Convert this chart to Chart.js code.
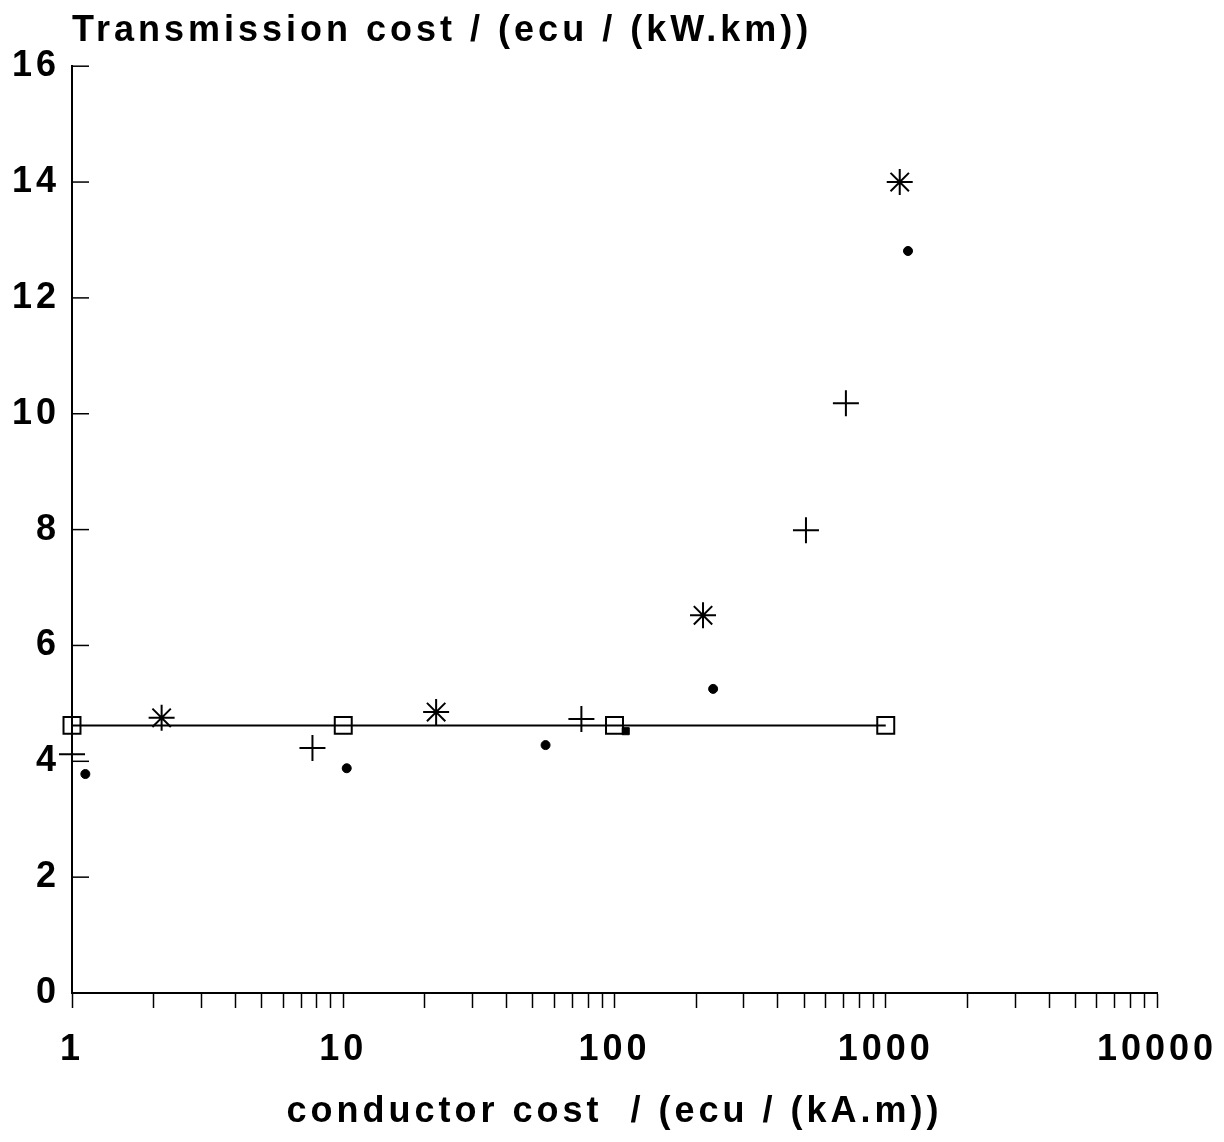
<!DOCTYPE html>
<html>
<head>
<meta charset="utf-8">
<script src="https://cdn.jsdelivr.net/npm/chart.js@4.4.1/dist/chart.umd.min.js"></script>
<style>
  html, body { margin: 0; padding: 0; background: #fff; }
  #wrap { width: 1224px; height: 1142px; }
</style>
</head>
<body>
<div id="wrap"><canvas id="chart"></canvas></div>
<script>
// values
const squareX = [1, 10, 100, 1000];
const squareY = [4.62, 4.62, 4.62, 4.62];
const starX = [2.14, 22, 212, 1126];
const starY = [4.75, 4.85, 6.52, 14.0];
const plusX = [1, 7.7, 75.5, 508, 713];
const plusY = [4.12, 4.23, 4.73, 7.99, 10.18];
const dotX = [1.12, 10.3, 55.7, 231, 1208];
const dotY = [3.78, 3.88, 4.28, 5.25, 12.81];
const smallSqX = [110];
const smallSqY = [4.52];

const yTicks = [0, 2, 4, 6, 8, 10, 12, 14, 16];
const xDecades = [1, 10, 100, 1000, 10000];

const fontFamily = "'Liberation Sans', Arial, sans-serif";

function pts(xs, ys) {
  return xs.map((x, i) => ({ x: x, y: ys[i] }));
}

// plotter look: a bit of letter spacing
const spacing = {
  id: 'spacing',
  beforeUpdate(chart) { chart.ctx.letterSpacing = '4px'; },
  beforeDraw(chart) { chart.ctx.letterSpacing = '4px'; }
};

// y ticks point inwards
const innerTicks = {
  id: 'innerTicks',
  afterDraw(chart) {
    const ctx = chart.ctx;
    const y = chart.scales.y;
    const left = chart.chartArea.left;
    ctx.save();
    ctx.strokeStyle = '#000';
    ctx.lineWidth = 1.5;
    yTicks.forEach(v => {
      const py = y.getPixelForValue(v);
      ctx.beginPath();
      ctx.moveTo(left, py);
      ctx.lineTo(left + 17, py);
      ctx.stroke();
    });
    ctx.restore();
  }
};

const minorTicks = [];
for (let d = 1; d < 10000; d *= 10) {
  for (let m = 1; m < 10; m++) minorTicks.push(d * m);
}
minorTicks.push(10000);

new Chart(document.getElementById('chart'), {
  type: 'scatter',
  data: {
    datasets: [
      {
        label: 'squares',
        data: pts(squareX, squareY),
        showLine: true,
        borderColor: '#000',
        borderWidth: 2,
        pointStyle: 'rect',
        pointRadius: 12,
        pointBorderWidth: 2,
        pointBackgroundColor: 'rgba(0,0,0,0)',
        pointBorderColor: '#000',
        clip: false
      },
      {
        label: 'stars',
        data: pts(starX, starY),
        pointStyle: 'star',
        pointRadius: 13,
        pointBorderWidth: 2,
        pointBorderColor: '#000',
        clip: false
      },
      {
        label: 'plus',
        data: pts(plusX, plusY),
        pointStyle: 'cross',
        pointRadius: 13,
        pointBorderWidth: 2,
        pointBorderColor: '#000',
        clip: false
      },
      {
        label: 'dots',
        data: pts(dotX, dotY),
        pointStyle: 'circle',
        pointRadius: 4.5,
        pointBorderWidth: 1,
        pointBackgroundColor: '#000',
        pointBorderColor: '#000',
        clip: false
      },
      {
        label: 'small',
        data: pts(smallSqX, smallSqY),
        pointStyle: 'rect',
        pointRadius: 5,
        pointBorderWidth: 1,
        pointBackgroundColor: '#000',
        pointBorderColor: '#000',
        clip: false
      }
    ]
  },
  options: {
    responsive: true,
    maintainAspectRatio: false,
    animation: false,
    layout: { padding: { left: 0, right: 67, top: 0, bottom: 0 } },
    plugins: {
      legend: { display: false },
      tooltip: { enabled: false },
      title: {
        display: true,
        text: 'Transmission cost / (ecu / (kW.km))',
        align: 'start',
        fullSize: false,
        color: '#000',
        font: { family: fontFamily, size: 36, weight: 'bold' },
        padding: { top: 9, bottom: 14 }
      }
    },
    scales: {
      x: {
        type: 'logarithmic',
        min: 1,
        max: 10000,
        afterBuildTicks(scale) {
          scale.ticks = minorTicks.map(v => ({ value: v }));
        },
        afterFit(scale) {
          scale.height = 149;
          scale.paddingLeft = 0;
          scale.paddingRight = 0;
        },
        ticks: {
          autoSkip: false,
          maxRotation: 0,
          color: '#000',
          padding: 20,
          font: { family: fontFamily, size: 36, weight: 'bold' },
          callback(v) { return xDecades.includes(v) ? String(v) : ''; }
        },
        grid: {
          drawOnChartArea: false,
          drawTicks: true,
          tickLength: 15,
          tickWidth: 1.5,
          tickColor: '#000'
        },
        border: { color: '#000', width: 2 },
        title: {
          display: true,
          text: 'conductor cost  / (ecu / (kA.m))',
          color: '#000',
          font: { family: fontFamily, size: 36, weight: 'bold' },
          padding: { top: 0, bottom: 8 }
        }
      },
      y: {
        min: 0,
        max: 16,
        afterBuildTicks(scale) {
          scale.ticks = yTicks.map(v => ({ value: v }));
        },
        afterFit(scale) { scale.width = 72; },
        ticks: {
          color: '#000',
          padding: 12,
          font: { family: fontFamily, size: 36, weight: 'bold' }
        },
        grid: { display: false, drawTicks: false },
        border: { color: '#000', width: 2 }
      }
    }
  },
  plugins: [spacing, innerTicks]
});
</script>
</body>
</html>
